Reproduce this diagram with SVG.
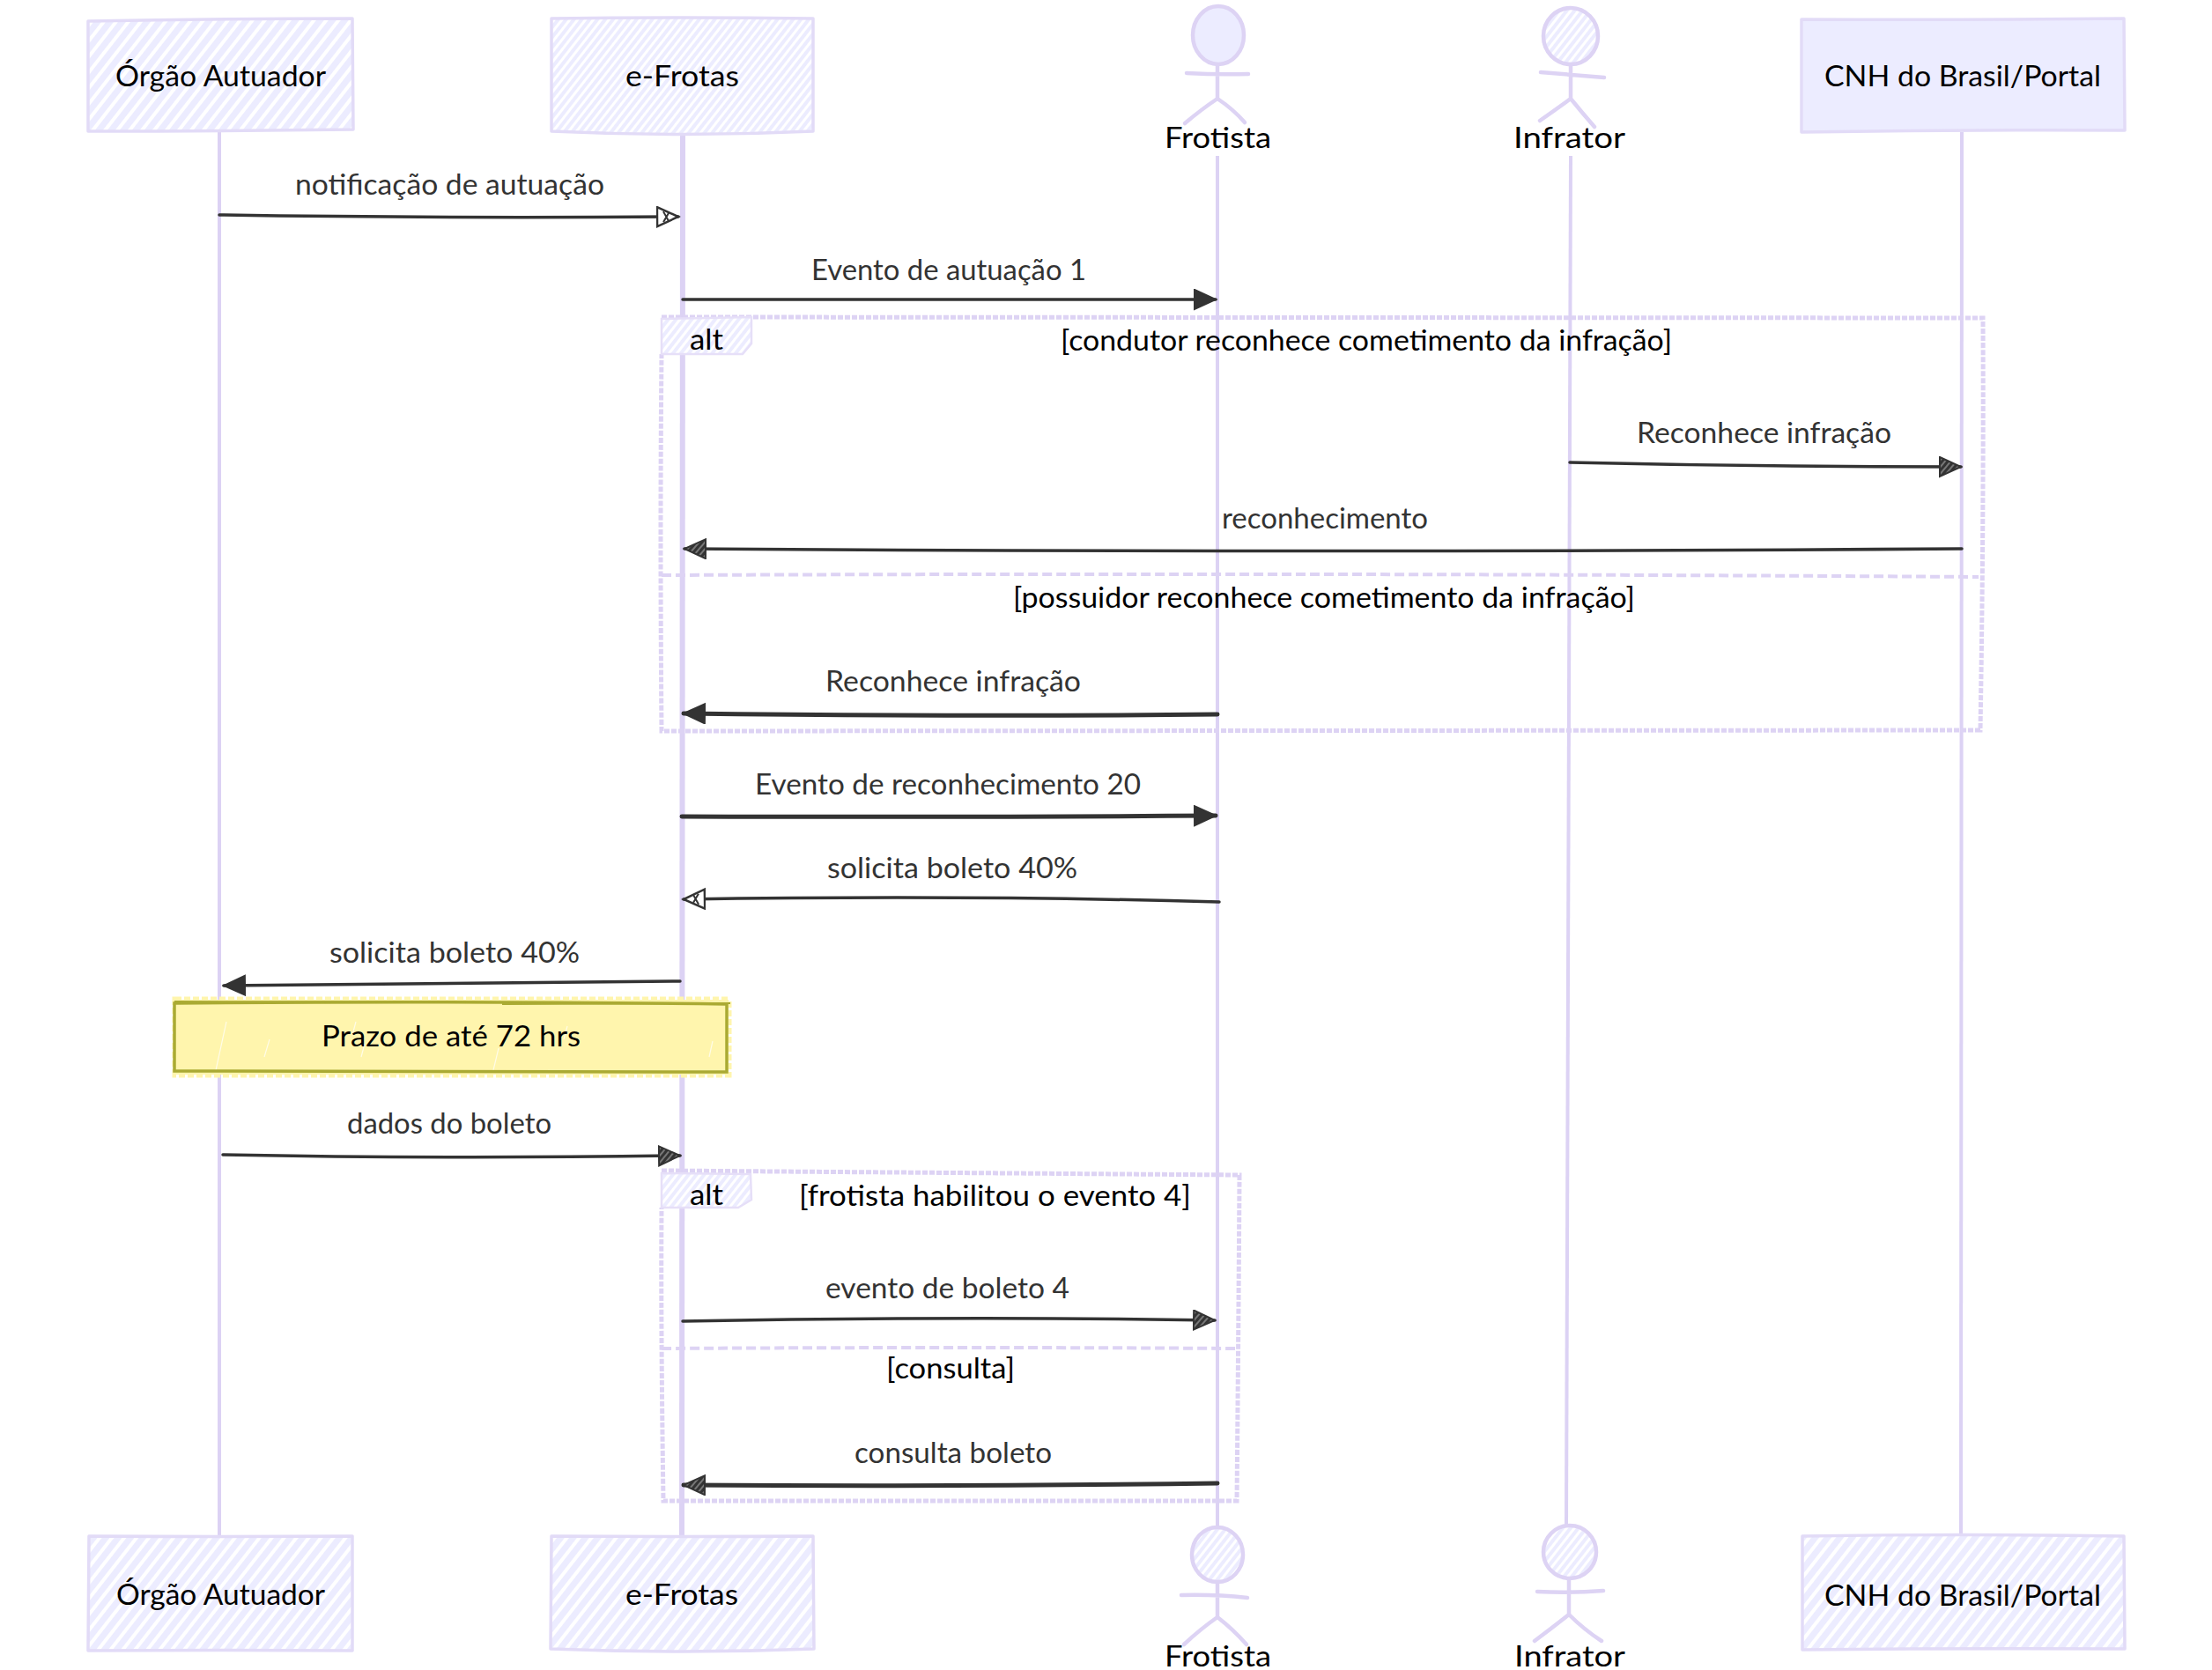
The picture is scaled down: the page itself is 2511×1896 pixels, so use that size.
<svg xmlns="http://www.w3.org/2000/svg" width="2511" height="1896" viewBox="0 0 2511 1896">
<style>
text{font-family:"Lato","Open Sans","Liberation Sans",sans-serif;font-size:33px}
.t{fill:#000}
.m{fill:#333}
.box{stroke:#e2dbf7;stroke-width:3.5;stroke-linejoin:round}
.fig{fill:none;stroke:#ddd3f4;stroke-width:4.5;stroke-linecap:round}
.life{fill:none;stroke:#dcd2f4;stroke-width:4}
.msg{fill:none;stroke:#333;stroke-width:3.5;stroke-linecap:round}
.frame{fill:none;stroke:#ddd3f4;stroke-width:5;stroke-dasharray:6 2}
.sep{fill:none;stroke:#ddd3f4;stroke-width:4;stroke-dasharray:11 5}
</style>
<defs>
<pattern id="hL" width="11" height="11" patternUnits="userSpaceOnUse" patternTransform="rotate(38)"><rect width="11" height="11" fill="#fff"/><rect width="7" height="11" fill="#ececff"/></pattern>
<pattern id="hF" width="7" height="7" patternUnits="userSpaceOnUse" patternTransform="rotate(38)"><rect width="7" height="7" fill="#fff"/><rect width="4" height="7" fill="#ececff"/></pattern>
<pattern id="hD" width="5" height="5" patternUnits="userSpaceOnUse" patternTransform="rotate(40)"><rect width="5" height="5" fill="#777"/><rect width="3" height="5" fill="#333"/></pattern>
<marker id="aS" markerUnits="userSpaceOnUse" markerWidth="28" markerHeight="26" refX="25" refY="12" orient="auto"><path d="M1 1 L25 12 L1 23Z" fill="#333" stroke="#333" stroke-width="2"/></marker>
<marker id="aH" markerUnits="userSpaceOnUse" markerWidth="28" markerHeight="26" refX="25" refY="12" orient="auto"><path d="M1 1 L25 12 L1 23Z" fill="#fff" stroke="#333" stroke-width="2.5"/><path d="M8 6L14 17M14 8L8 18" stroke="#333" stroke-width="2"/></marker>
<marker id="aD" markerUnits="userSpaceOnUse" markerWidth="28" markerHeight="26" refX="25" refY="12" orient="auto"><path d="M1 1 L25 12 L1 23Z" fill="url(#hD)" stroke="#333" stroke-width="2"/></marker>
</defs>

<g id="lifelines">
<path class="life" d="M249 150L249 1745"/>
<path class="life" d="M775 152Q777 900 774 1745" style="stroke-width:6"/>
<path class="life" d="M1382 177L1382 1735"/>
<path class="life" d="M1783 177Q1779 800 1778 1735"/>
<path class="life" d="M2227 150L2226 1745"/>
</g>

<g id="frames">
<g id="alt1">
<path class="frame" d="M751 360L2251 361Q2252 600 2248 829L751 830Q749 600 751 402"/>
<path class="sep" d="M751 653Q1500 650 2246 655"/>
<path d="M751 362L853 360L853 390L843 402L751 402Z" fill="url(#hF)" stroke="#e6dff8" stroke-width="2.5"/>
<text class="t" lengthAdjust="spacingAndGlyphs" x="783" y="397" textLength="38">alt</text>
<text class="t" lengthAdjust="spacingAndGlyphs" x="1204" y="398" textLength="694">[condutor reconhece cometimento da infração]</text>
<text class="t" lengthAdjust="spacingAndGlyphs" x="1150" y="690" textLength="706">[possuidor reconhece cometimento da infração]</text>
</g>
<g id="alt2">
<path class="frame" d="M751 1329L1407 1334Q1406 1500 1404 1704L753 1704Q750 1500 751 1371"/>
<path class="sep" d="M751 1531Q1100 1529 1405 1531"/>
<path d="M751 1332L852 1333L853 1362L838 1371L751 1371Z" fill="url(#hF)" stroke="#e6dff8" stroke-width="2.5"/>
<text class="t" lengthAdjust="spacingAndGlyphs" x="783" y="1368" textLength="38">alt</text>
<text class="t" lengthAdjust="spacingAndGlyphs" x="907" y="1369" textLength="445">[frotista habilitou o evento 4]</text>
<text class="t" lengthAdjust="spacingAndGlyphs" x="1006" y="1565" textLength="146">[consulta]</text>
</g>
</g>

<g id="connectors">
<path class="msg" d="M249 244Q500 248 770 246" marker-end="url(#aH)"/>
<path class="msg" d="M775 340L1380 340" marker-end="url(#aS)"/>
<path class="msg" d="M1782 525Q2000 530 2226 530" marker-end="url(#aD)"/>
<path class="msg" d="M2227 623Q1500 628 777 623" marker-end="url(#aD)"/>
<path class="msg" d="M1382 811Q1100 814 776 810" marker-end="url(#aS)" style="stroke-width:5"/>
<path class="msg" d="M774 927Q1100 928 1380 926" marker-end="url(#aS)" style="stroke-width:5"/>
<path class="msg" d="M1384 1024Q1100 1016 776 1021" marker-end="url(#aH)"/>
<path class="msg" d="M772 1114Q500 1116 254 1119" marker-end="url(#aS)"/>
<path class="msg" d="M253 1311Q500 1316 772 1312" marker-end="url(#aD)"/>
<path class="msg" d="M775 1500Q1100 1494 1379 1499" marker-end="url(#aD)"/>
<path class="msg" d="M1382 1684Q1100 1688 776 1686" marker-end="url(#aD)" style="stroke-width:5"/>
<text class="m" lengthAdjust="spacingAndGlyphs" x="335" y="221" textLength="351">notificação de autuação</text>
<text class="m" lengthAdjust="spacingAndGlyphs" x="921" y="318" textLength="312">Evento de autuação 1</text>
<text class="m" lengthAdjust="spacingAndGlyphs" x="1858" y="503" textLength="289">Reconhece infração</text>
<text class="m" lengthAdjust="spacingAndGlyphs" x="1387" y="600" textLength="234">reconhecimento</text>
<text class="m" lengthAdjust="spacingAndGlyphs" x="937" y="785" textLength="290">Reconhece infração</text>
<text class="m" lengthAdjust="spacingAndGlyphs" x="857" y="902" textLength="438">Evento de reconhecimento 20</text>
<text class="m" lengthAdjust="spacingAndGlyphs" x="939" y="997" textLength="284">solicita boleto 40%</text>
<text class="m" lengthAdjust="spacingAndGlyphs" x="374" y="1093" textLength="284">solicita boleto 40%</text>
<text class="m" lengthAdjust="spacingAndGlyphs" x="394" y="1287" textLength="232">dados do boleto</text>
<text class="m" lengthAdjust="spacingAndGlyphs" x="937" y="1474" textLength="277">evento de boleto 4</text>
<text class="m" lengthAdjust="spacingAndGlyphs" x="970" y="1661" textLength="224">consulta boleto</text>
</g>

<g id="note">
<rect x="199" y="1135" width="628" height="85" fill="#fff5ad" stroke="#fff5ad" stroke-width="7" stroke-dasharray="7 3"/>
<path d="M245 1215L257 1160M300 1200L306 1180M410 1200L414 1185M560 1215L566 1190M400 1175L404 1160M640 1180L644 1165M805 1200L809 1182" stroke="#fff" stroke-width="1.2" stroke-opacity="0.7" fill="none"/>
<path d="M198 1139Q500 1136 825 1140L825 1217L198 1216Z" fill="none" stroke="#aaaa33" stroke-width="3.5"/>
<path d="M198 1137L570 1138M570 1140L829 1139" fill="none" stroke="#aaaa33" stroke-width="2"/>
<text class="t" lengthAdjust="spacingAndGlyphs" x="365" y="1188" textLength="294">Prazo de até 72 hrs</text>
</g>

<g id="actor-orgao-top">
<path class="box" d="M100 24Q250 21 400 21L401 147Q250 149 100 149Z" fill="url(#hL)"/>
<text class="t" lengthAdjust="spacingAndGlyphs" x="131" y="98" textLength="239">Órgão Autuador</text>
</g>
<g id="actor-efrotas-top">
<path class="box" d="M626 21Q775 19 923 21L923 149Q775 156 626 149Z" fill="url(#hF)"/>
<text class="t" lengthAdjust="spacingAndGlyphs" x="710" y="98" textLength="129">e-Frotas</text>
</g>
<g id="actor-frotista-top">
<ellipse cx="1383" cy="40" rx="29" ry="33" fill="#ececff" stroke="#ddd3f4" stroke-width="4.5"/>
<path class="fig" d="M1382 73L1382 112M1347 83Q1382 85 1417 84M1382 112Q1364 124 1345 140M1382 112Q1400 124 1413 139"/>
<text class="t" lengthAdjust="spacingAndGlyphs" x="1322" y="168" textLength="121">Frotista</text>
</g>
<g id="actor-infrator-top">
<ellipse cx="1783" cy="41" rx="31" ry="32" fill="url(#hF)" stroke="#ddd3f4" stroke-width="4.5"/>
<path class="fig" d="M1783 73L1783 112M1749 82Q1785 85 1821 88M1783 112Q1765 125 1748 137M1783 112Q1796 128 1810 144"/>
<text class="t" lengthAdjust="spacingAndGlyphs" x="1718" y="168" textLength="127">Infrator</text>
</g>
<g id="actor-cnh-top">
<path class="box" d="M2045 22Q2230 23 2411 21L2412 148Q2230 147 2045 150Z" fill="#ececff"/>
<text class="t" lengthAdjust="spacingAndGlyphs" x="2071" y="98" textLength="314">CNH do Brasil/Portal</text>
</g>

<g id="actor-orgao-bottom">
<path class="box" d="M101 1744Q250 1745 400 1744L400 1874Q250 1873 100 1874Z" fill="url(#hL)"/>
<text class="t" lengthAdjust="spacingAndGlyphs" x="132" y="1822" textLength="237">Órgão Autuador</text>
</g>
<g id="actor-efrotas-bottom">
<path class="box" d="M626 1744Q775 1745 923 1744L924 1872Q775 1878 625 1872Z" fill="url(#hL)"/>
<text class="t" lengthAdjust="spacingAndGlyphs" x="710" y="1822" textLength="128">e-Frotas</text>
</g>
<g id="actor-frotista-bottom">
<ellipse cx="1382" cy="1765" rx="29" ry="31" fill="url(#hF)" stroke="#ddd3f4" stroke-width="4.5"/>
<path class="fig" d="M1382 1796L1382 1836M1341 1811Q1380 1810 1416 1814M1382 1836Q1362 1850 1344 1867M1382 1836Q1400 1850 1415 1867"/>
<text class="t" lengthAdjust="spacingAndGlyphs" x="1322" y="1892" textLength="121">Frotista</text>
</g>
<g id="actor-infrator-bottom">
<ellipse cx="1782" cy="1762" rx="30" ry="30" fill="url(#hF)" stroke="#ddd3f4" stroke-width="4.5"/>
<path class="fig" d="M1781 1792L1781 1833M1745 1807Q1782 1809 1820 1806M1781 1833Q1762 1848 1742 1863M1781 1833Q1798 1850 1818 1863"/>
<text class="t" lengthAdjust="spacingAndGlyphs" x="1719" y="1892" textLength="126">Infrator</text>
</g>
<g id="actor-cnh-bottom">
<path class="box" d="M2046 1744Q2230 1741 2411 1744L2412 1872Q2230 1871 2046 1873Z" fill="url(#hL)"/>
<text class="t" lengthAdjust="spacingAndGlyphs" x="2071" y="1823" textLength="314">CNH do Brasil/Portal</text>
</g>
</svg>
